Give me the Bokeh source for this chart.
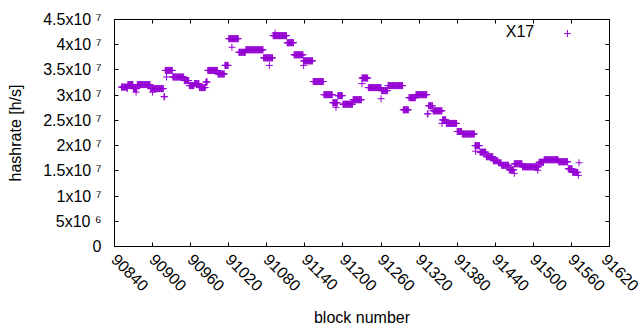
import math
from bokeh.plotting import figure
from bokeh.models import FixedTicker, LinearAxis, Range1d, Label, CustomLabelingPolicy
from bokeh.embed import file_html
from bokeh.resources import INLINE

# ---- data: runs of constant hashrate (start block, value); each run lasts until next start
run_start = [90851, 90861, 90870, 90876, 90897, 90918, 90920, 90932, 90950, 90958,
             90966, 90974, 90984, 90987, 91003, 91014, 91020, 91036, 91047, 91075,
             91090, 91112, 91123, 91138, 91153, 91170, 91184, 91192, 91200, 91216,
             91230, 91240, 91261, 91271, 91295, 91304, 91315, 91333, 91335, 91342,
             91357, 91363, 91380, 91388, 91408, 91416, 91426, 91437, 91445, 91450,
             91462, 91470, 91483, 91509, 91517, 91540, 91555, 91562]
run_value = [3.16e7, 3.21e7, 3.13e7, 3.21e7, 3.13e7, 2.97e7, 3.49e7, 3.36e7, 3.29e7, 3.19e7,
             3.23e7, 3.15e7, 3.26e7, 3.49e7, 3.42e7, 3.59e7, 4.12e7, 3.85e7, 3.90e7, 3.74e7,
             4.18e7, 4.04e7, 3.80e7, 3.68e7, 3.27e7, 3.01e7, 2.85e7, 2.99e7, 2.82e7, 2.91e7,
             3.34e7, 3.15e7, 3.09e7, 3.19e7, 2.71e7, 2.95e7, 3.01e7, 2.63e7, 2.79e7, 2.69e7,
             2.51e7, 2.44e7, 2.28e7, 2.23e7, 2.00e7, 1.87e7, 1.78e7, 1.70e7, 1.66e7, 1.61e7,
             1.52e7, 1.64e7, 1.58e7, 1.67e7, 1.72e7, 1.68e7, 1.54e7, 1.47e7]
last_block = 91570

# isolated points off their run
outlier_block = [90860, 90874, 90900, 90922, 91025, 91084, 91093, 91138, 91189,
                 91230, 91260, 91356, 91409, 91470, 91507, 91572, 91571]
outlier_value = [3.13e7, 3.06e7, 3.06e7, 3.36e7, 3.95e7, 3.59e7, 4.23e7, 3.59e7, 2.76e7,
                 3.23e7, 2.93e7, 2.44e7, 1.89e7, 1.45e7, 1.51e7, 1.66e7, 1.41e7]

x_ticks = [90840, 90900, 90960, 91020, 91080, 91140, 91200, 91260, 91320,
           91380, 91440, 91500, 91560, 91620]
y_ticks = [0, 5000000, 10000000, 15000000, 20000000, 25000000, 30000000,
           35000000, 40000000, 45000000]
y_tick_labels = ["0", "5x10 \u2076", "1x10 \u2077", "1.5x10 \u2077", "2x10 \u2077",
                 "2.5x10 \u2077", "3x10 \u2077", "3.5x10 \u2077", "4x10 \u2077", "4.5x10 \u2077"]
series_name = "X17"

# expand runs to one point per block
blocks, values = [], []
for i, s in enumerate(run_start):
    e = run_start[i + 1] if i + 1 < len(run_start) else last_block + 1
    for b in range(s, e):
        blocks.append(b)
        values.append(run_value[i])
blocks += outlier_block
values += outlier_value

FONT = "Liberation Sans"
COLOR = "#9400D3"
X0, X1 = 90840, 91620
Y0, Y1 = 0, 45000000

p = figure(width=640, height=330, x_range=Range1d(X0, X1), y_range=Range1d(Y0, Y1),
           output_backend="svg", toolbar_location=None,
           min_border_left=114, min_border_right=31, min_border_top=19, min_border_bottom=84,
           x_axis_label="block number", y_axis_label="hashrate [h/s]")
p.grid.visible = False
p.outline_line_color = "black"
p.outline_line_width = 1
p.outline_line_alpha = 1

p.scatter(blocks, values, marker="cross", size=7, line_color=COLOR, line_width=1)

for ax in (p.xaxis[0], p.yaxis[0]):
    ax.major_tick_in = 4
    ax.major_tick_out = 0
    ax.minor_tick_line_color = None
    ax.axis_line_color = "black"
    ax.major_tick_line_color = "black"
    ax.major_label_text_font = FONT
    ax.major_label_text_font_size = "16px"
    ax.major_label_text_color = "black"
    ax.axis_label_text_font = FONT
    ax.axis_label_text_font_size = "16px"
    ax.axis_label_text_font_style = "normal"
    ax.axis_label_text_color = "black"

p.xaxis[0].ticker = FixedTicker(ticks=x_ticks)
p.xaxis[0].major_label_orientation = -math.pi / 4
p.xaxis[0].major_label_standoff = 10
p.xaxis[0].axis_label_standoff = 10

p.yaxis[0].ticker = FixedTicker(ticks=y_ticks)
p.yaxis[0].major_label_overrides = {t: l for t, l in zip(y_ticks, y_tick_labels)}
p.yaxis[0].major_label_standoff = 13
p.yaxis[0].axis_label_standoff = 16

# mirrored ticks on top and right (no labels)
no_labels = CustomLabelingPolicy(code="return []")
top = LinearAxis(ticker=FixedTicker(ticks=x_ticks), major_tick_in=4, major_tick_out=0,
                 minor_tick_line_color=None, axis_line_color=None,
                 major_label_overrides={t: "" for t in x_ticks},
                 major_label_policy=no_labels, major_label_standoff=0)
right = LinearAxis(ticker=FixedTicker(ticks=y_ticks), major_tick_in=4, major_tick_out=0,
                   minor_tick_line_color=None, axis_line_color=None,
                   major_label_overrides={t: "" for t in y_ticks},
                   major_label_policy=CustomLabelingPolicy(code="return []"),
                   major_label_standoff=0)
p.add_layout(top, "above")
p.add_layout(right, "right")

# key (gnuplot style: text then sample, top right)
kx_text = X0 + 0.848 * (X1 - X0)
kx_mark = X0 + 0.915 * (X1 - X0)
ky_text = Y0 + 0.947 * (Y1 - Y0)
ky_mark = Y0 + 0.938 * (Y1 - Y0)
p.add_layout(Label(x=kx_text, y=ky_text, text=series_name, text_align="right",
                   text_baseline="middle", text_font=FONT, text_font_size="16px",
                   text_color="black"))
p.scatter([kx_mark], [ky_mark], marker="cross", size=7, line_color=COLOR, line_width=1)

open("out.html", "w").write(file_html(p, INLINE))
